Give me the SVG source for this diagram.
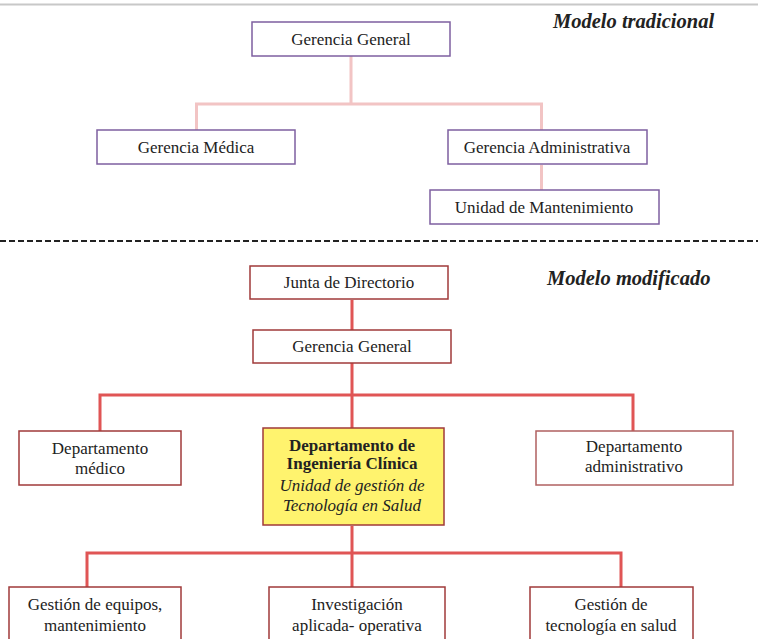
<svg xmlns="http://www.w3.org/2000/svg" width="758" height="639" viewBox="0 0 758 639">
<style>
.t{font-family:"Liberation Serif","Times New Roman",serif;font-size:17px;fill:#222;text-anchor:middle}
.h{font-family:"Liberation Serif","Times New Roman",serif;font-size:20.5px;font-weight:bold;font-style:italic;fill:#222}
.bp{fill:#fff;stroke:#7e5fa0;stroke-width:1.5}
.br{fill:#fff;stroke:#a03a3a;stroke-width:1.5}
.pk{stroke:#f2c4c4;stroke-width:3;fill:none}
.rd{stroke:#e05555;stroke-width:3;fill:none}
</style>
<rect width="758" height="639" fill="#fff"/>
<line x1="0" y1="4.5" x2="758" y2="4.5" stroke="#c8c8c8" stroke-width="2"/>
<line x1="0" y1="241" x2="758" y2="241" stroke="#222" stroke-width="2" stroke-dasharray="6,3"/>
<text class="h" x="553" y="28">Modelo tradicional</text>
<text class="h" x="547" y="285">Modelo modificado</text>
<g id="connectors">
<path class="pk" d="M351 56V104M196.5 130V104H541.5V130M541.5 165V190"/>
<path class="rd" d="M352 300V330M352 363V395M100 431V395H633V431M352 395V428M352 526V553M87 587V553H621V587M352 553V587"/>
</g>
<g id="t_gg"><rect class="bp" x="252" y="22" width="198" height="34"/><text class="t" x="351" y="45">Gerencia General</text></g>
<g id="t_gm"><rect class="bp" x="97" y="130" width="198" height="34"/><text class="t" x="196" y="153">Gerencia Médica</text></g>
<g id="t_ga"><rect class="bp" x="448" y="130" width="199" height="34"/><text class="t" x="547" y="153">Gerencia Administrativa</text></g>
<g id="t_um"><rect class="bp" x="430" y="190" width="229" height="34"/><text class="t" x="544" y="213">Unidad de Mantenimiento</text></g>
<g id="m_jd"><rect class="br" x="250" y="266" width="198" height="33"/><text class="t" x="349" y="288">Junta de Directorio</text></g>
<g id="m_gg"><rect class="br" x="253" y="330" width="198" height="33"/><text class="t" x="352" y="352">Gerencia General</text></g>
<g id="m_dm"><rect class="br" x="19" y="431" width="162" height="54"/><text class="t" x="100" y="454">Departamento</text><text class="t" x="100" y="474">médico</text></g>
<g id="m_dic"><rect x="263" y="428" width="181" height="97" fill="#fff36e" stroke="#a03a3a" stroke-width="1.5"/>
<text class="t" x="352" y="451" font-weight="bold">Departamento de</text>
<text class="t" x="352" y="469" font-weight="bold">Ingeniería Clínica</text>
<text class="t" x="352" y="491" font-style="italic" fill="#333">Unidad de gestión de</text>
<text class="t" x="352" y="511" font-style="italic" fill="#333">Tecnología en Salud</text></g>
<g id="m_da"><rect x="536" y="431" width="197" height="54" fill="#fff" stroke="#b06060" stroke-width="1.5"/><text class="t" x="634" y="452">Departamento</text><text class="t" x="634" y="472">administrativo</text></g>
<g id="m_ge"><rect class="br" x="9" y="587" width="172" height="60"/><text class="t" x="95" y="610">Gestión de equipos,</text><text class="t" x="95" y="631">mantenimiento</text></g>
<g id="m_ia"><rect class="br" x="269" y="587" width="176" height="60"/><text class="t" x="357" y="610">Investigación</text><text class="t" x="357" y="631">aplicada- operativa</text></g>
<g id="m_gt"><rect class="br" x="530" y="587" width="163" height="60"/><text class="t" x="611" y="610">Gestión de</text><text class="t" x="611" y="631">tecnología en salud</text></g>
</svg>
